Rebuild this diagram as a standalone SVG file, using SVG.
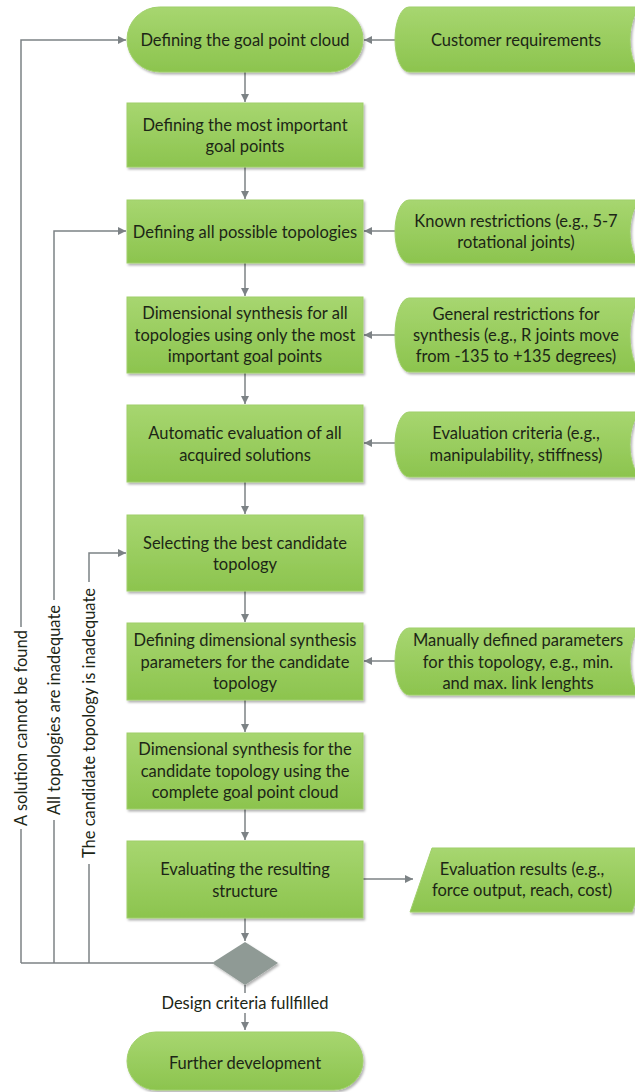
<svg xmlns="http://www.w3.org/2000/svg" width="635" height="1092" viewBox="0 0 635 1092">
<defs>
<linearGradient id="g" x1="0" y1="0" x2="0" y2="1">
<stop offset="0" stop-color="#A7D670"/>
<stop offset="1" stop-color="#8CC44E"/>
</linearGradient>
<filter id="sh" x="-10%" y="-10%" width="130%" height="140%">
<feDropShadow dx="1.5" dy="2" stdDeviation="1.2" flood-color="#000" flood-opacity="0.3"/>
</filter>
<marker id="ah" markerUnits="userSpaceOnUse" markerWidth="9" markerHeight="9" refX="8" refY="4.5" orient="auto">
<path d="M0,0.5 L8,4.5 L0,8.5 z" fill="#7C8285"/>
</marker>
</defs>
<style>
.n{fill:url(#g);stroke:#9FCF6A;stroke-width:1;filter:url(#sh)}
.t{font-family:Lato,"Open Sans",sans-serif;font-size:16.5px;fill:#1C2616;text-anchor:middle;dominant-baseline:central}
.c{fill:none;stroke:#7C8285;stroke-width:1.5}
.a{marker-end:url(#ah)}
.d{fill:#8F9A95;filter:url(#sh)}
</style>

<g id="connectors">
<path class="c a" d="M245,72 V102"/>
<path class="c a" d="M245,167 V199"/>
<path class="c a" d="M245,263 V296"/>
<path class="c a" d="M245,373 V404"/>
<path class="c a" d="M245,482 V514"/>
<path class="c a" d="M245,591 V622"/>
<path class="c a" d="M245,700 V732"/>
<path class="c a" d="M245,809 V840"/>
<path class="c a" d="M245,918 V941"/>
<path class="c" d="M245,985 V993"/>
<path class="c a" d="M245,1013 V1030"/>
<path class="c a" d="M395,40 H364"/>
<path class="c a" d="M395,231 H364"/>
<path class="c a" d="M395,335 H364"/>
<path class="c a" d="M395,443 H364"/>
<path class="c a" d="M395,661 H364"/>
<path class="c a" d="M363,879 H413"/>
<path class="c" d="M213,963 H21"/>
<path class="c" d="M21,963 V829"/>
<path class="c a" d="M21,627 V40 H126"/>
<path class="c" d="M54,963 V820"/>
<path class="c a" d="M54,600 V231 H126"/>
<path class="c" d="M89,963 V864"/>
<path class="c a" d="M89,582 V553 H126"/>
<text class="t" transform="translate(21,728) rotate(-90)">A solution cannot be found</text>
<text class="t" transform="translate(54,710) rotate(-90)">All topologies are inadequate</text>
<text class="t" transform="translate(89,723) rotate(-90)">The candidate topology is inadequate</text>
<text class="t" x="245" y="1003">Design criteria fullfilled</text>
</g>

<g id="n1"><rect class="n" x="127" y="7" width="236" height="65" rx="32.5"/><text class="t" x="245" y="40">Defining the goal point cloud</text></g>
<g id="n2"><rect class="n" x="127" y="103" width="236" height="64"/><text class="t" x="245" y="125">Defining the most important</text><text class="t" x="245" y="146">goal points</text></g>
<g id="n3"><rect class="n" x="127" y="200" width="236" height="63"/><text class="t" x="245" y="232">Defining all possible topologies</text></g>
<g id="n4"><rect class="n" x="127" y="297" width="236" height="76"/><text class="t" x="245" y="313">Dimensional synthesis for all</text><text class="t" x="245" y="335">topologies using only the most</text><text class="t" x="245" y="356">important goal points</text></g>
<g id="n5"><rect class="n" x="127" y="405" width="236" height="77"/><text class="t" x="245" y="433">Automatic evaluation of all</text><text class="t" x="245" y="455">acquired solutions</text></g>
<g id="n6"><rect class="n" x="127" y="515" width="236" height="76"/><text class="t" x="245" y="543">Selecting the best candidate</text><text class="t" x="245" y="564">topology</text></g>
<g id="n7"><rect class="n" x="127" y="623" width="236" height="77"/><text class="t" x="245" y="640">Defining dimensional synthesis</text><text class="t" x="245" y="662">parameters for the candidate</text><text class="t" x="245" y="683">topology</text></g>
<g id="n8"><rect class="n" x="127" y="733" width="236" height="76"/><text class="t" x="245" y="749">Dimensional synthesis for the</text><text class="t" x="245" y="771">candidate topology using the</text><text class="t" x="245" y="792">complete goal point cloud</text></g>
<g id="n9"><rect class="n" x="127" y="841" width="236" height="77"/><text class="t" x="245" y="869">Evaluating the resulting</text><text class="t" x="245" y="891">structure</text></g>
<g id="decision"><polygon class="d" points="245,942 278,963 245,985 212,963"/></g>
<g id="n10"><rect class="n" x="127" y="1032" width="236" height="58" rx="29"/><text class="t" x="245" y="1063">Further development</text></g>

<g id="s1"><path class="n" d="M644,7 H409 A14,32.5 0 0 0 409,72 H644 A14,32.5 0 0 1 644,7 Z"/><text class="t" x="516" y="40">Customer requirements</text></g>
<g id="s2"><path class="n" d="M644,200 H409 A14,31.5 0 0 0 409,263 H644 A14,31.5 0 0 1 644,200 Z"/><text class="t" x="516" y="221">Known restrictions (e.g., 5-7</text><text class="t" x="516" y="242">rotational joints)</text></g>
<g id="s3"><path class="n" d="M644,298 H409 A14,37 0 0 0 409,372 H644 A14,37 0 0 1 644,298 Z"/><text class="t" x="516" y="314">General restrictions for</text><text class="t" x="516" y="335">synthesis (e.g., R joints move</text><text class="t" x="516" y="356">from -135 to +135 degrees)</text></g>
<g id="s4"><path class="n" d="M644,412 H409 A14,32.5 0 0 0 409,477 H644 A14,32.5 0 0 1 644,412 Z"/><text class="t" x="516" y="433">Evaluation criteria (e.g.,</text><text class="t" x="516" y="455">manipulability, stiffness)</text></g>
<g id="s5"><path class="n" d="M644,628 H409 A14,33.5 0 0 0 409,695 H644 A14,33.5 0 0 1 644,628 Z"/><text class="t" x="518" y="640">Manually defined parameters</text><text class="t" x="518" y="662">for this topology, e.g., min.</text><text class="t" x="518" y="683">and max. link lenghts</text></g>
<g id="s6"><polygon class="n" points="432,848 654,848 632,912 410,912"/><text class="t" x="522" y="869">Evaluation results (e.g.,</text><text class="t" x="522" y="890">force output, reach, cost)</text></g>
</svg>
